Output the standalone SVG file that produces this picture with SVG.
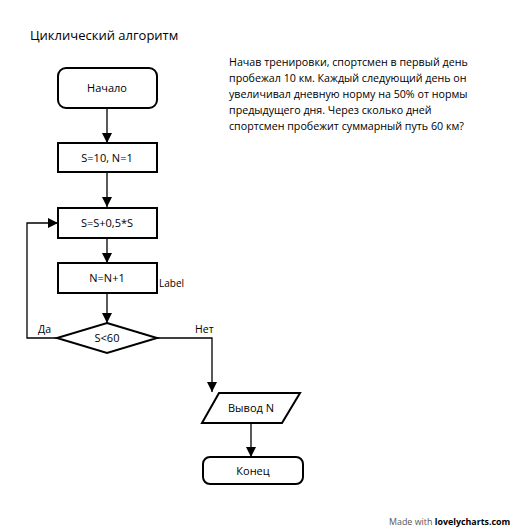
<svg xmlns="http://www.w3.org/2000/svg" width="525" height="530" viewBox="0 0 525 530">
<defs>
<marker id="ah" viewBox="0 0 10 10" refX="10" refY="5" markerWidth="10" markerHeight="10" markerUnits="userSpaceOnUse" orient="auto">
<path d="M0,0 L10,5 L0,10 Z" fill="#000"/>
</marker>
</defs>
<style>
.n{fill:#fff;stroke:#000;stroke-width:2}
.t{font-family:"Open Sans","Noto Sans",sans-serif;font-size:11px;fill:#000;text-anchor:middle}
.c{fill:none;stroke:#000;stroke-width:1.3;marker-end:url(#ah)}
.l{font-family:"Open Sans","Noto Sans",sans-serif;font-size:10.5px;fill:#000}
</style>
<rect width="525" height="530" fill="#fff"/>
<text x="30" y="40" style="font-family:'Open Sans','Noto Sans',sans-serif;font-size:13px;fill:#000">Циклический алгоритм</text>
<text style="font-family:'Open Sans','Noto Sans',sans-serif;font-size:10.7px;fill:#000">
<tspan x="229" y="66">Начав тренировки, спортсмен в первый день</tspan>
<tspan x="229" y="82">пробежал 10 км. Каждый следующий день он</tspan>
<tspan x="229" y="98">увеличивал дневную норму на 50% от нормы</tspan>
<tspan x="229" y="114">предыдущего дня. Через сколько дней</tspan>
<tspan x="229" y="130">спортсмен пробежит суммарный путь 60 км?</tspan>
</text>
<g id="connectors">
<path class="c" d="M107,108 V143"/>
<path class="c" d="M107,172 V207"/>
<path class="c" d="M107,238 V263"/>
<path class="c" d="M107,293 V323"/>
<path class="c" d="M57,338 H27 V223 H58"/>
<path class="c" d="M157,338 H212 V392"/>
<path class="c" d="M251,423 V457"/>
<text class="l" x="38" y="333">Да</text>
<text class="l" x="195" y="333">Нет</text>
</g>
<g id="start"><rect class="n" x="58" y="68" width="99" height="40" rx="8"/><text class="t" x="107" y="92">Начало</text></g>
<g id="init"><rect class="n" x="58" y="143" width="99" height="29"/><text class="t" x="107" y="161.5">S=10, N=1</text></g>
<g id="calc"><rect class="n" x="58" y="208" width="99" height="30"/><text class="t" x="107" y="227">S=S+0,5*S</text></g>
<g id="inc"><rect class="n" x="58" y="263" width="99" height="30"/><text class="t" x="107" y="282">N=N+1</text><text class="l" x="159" y="287" style="font-size:10px">Label</text></g>
<g id="cond"><polygon class="n" points="107,323 157,338 107,353 57,338"/><text class="t" x="107" y="342">S&lt;60</text></g>
<g id="output"><polygon class="n" points="219,393 300,393 282,423 202,423"/><text class="t" x="251" y="412">Вывод N</text></g>
<g id="end"><rect class="n" x="203" y="457" width="100" height="27" rx="7"/><text class="t" x="253" y="474.5">Конец</text></g>
<text x="389" y="525" style="font-family:'Open Sans','Noto Sans',sans-serif;font-size:8.9px;fill:#555">Made with <tspan style="font-weight:bold;fill:#000">lovelycharts.com</tspan></text>
</svg>
